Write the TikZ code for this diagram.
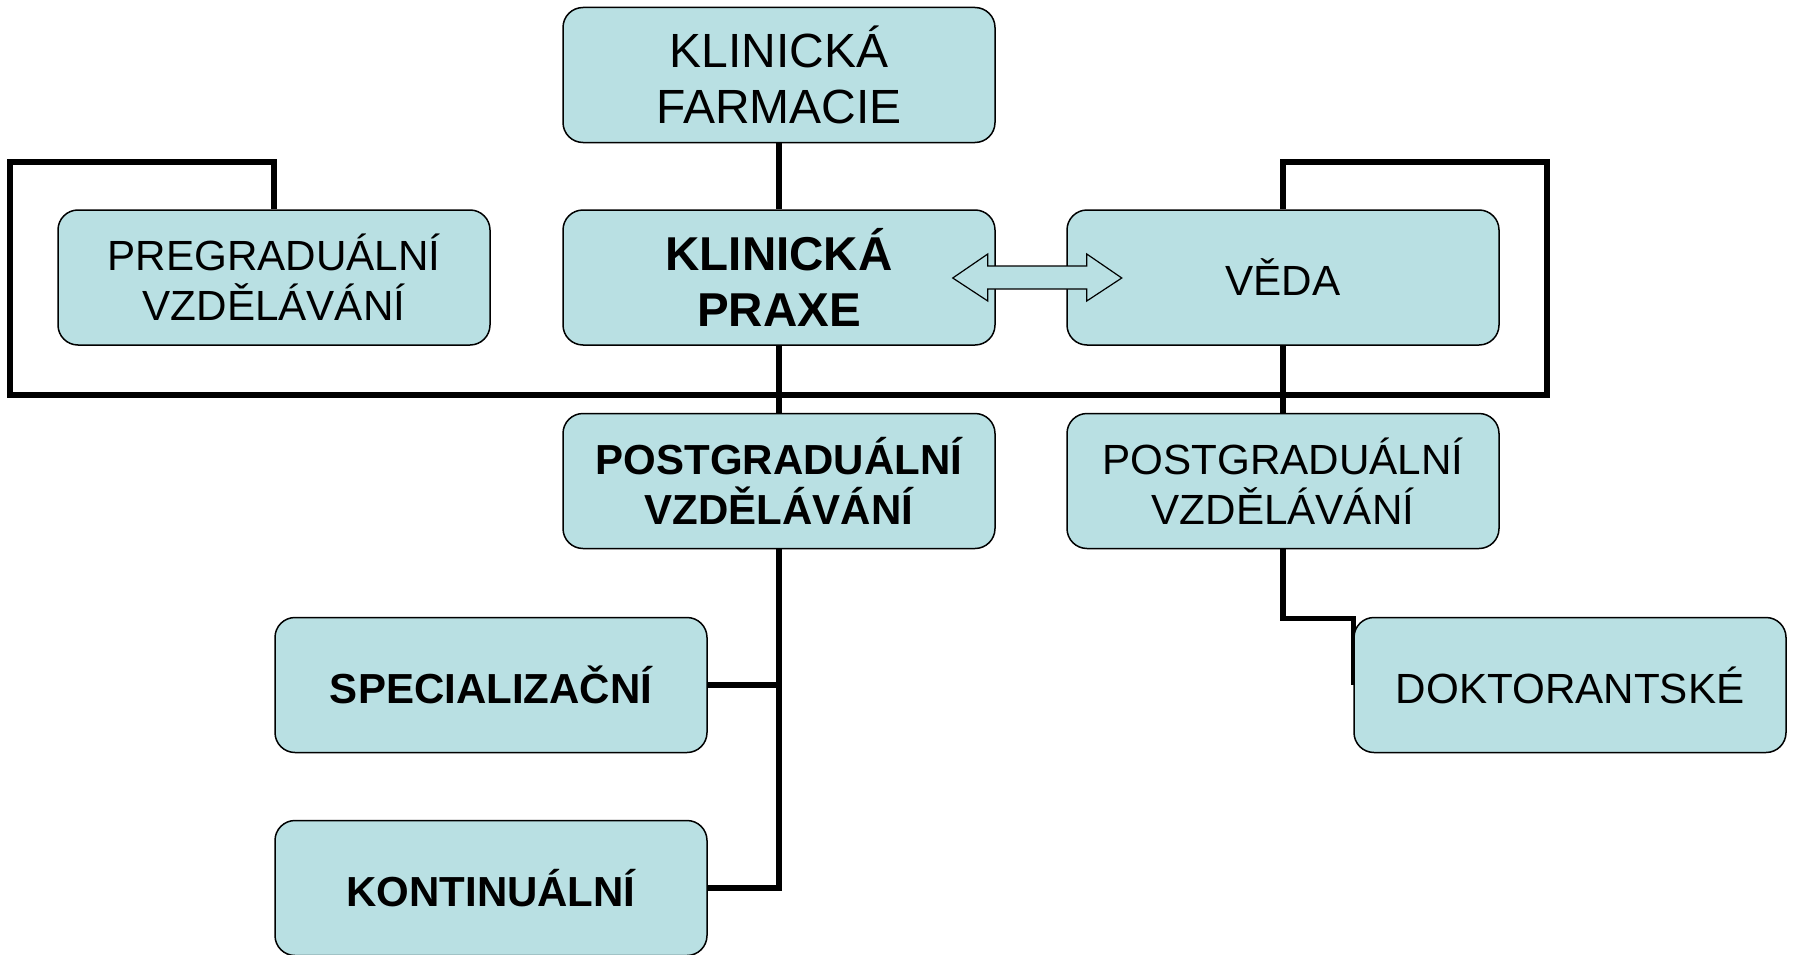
\documentclass[tikz,border=0pt]{standalone}
\usepackage{fontspec}
\setmainfont{Liberation Sans}
\usetikzlibrary{backgrounds}
\definecolor{boxfill}{RGB}{185,224,227}
\tikzset{
  box/.style={draw=black, line width=1.5pt, fill=boxfill, rounded corners=20pt,
    minimum width=432pt, minimum height=135pt, align=center, inner sep=0pt,
    font=\fontsize{42.2}{50}\selectfont},
  bigbox/.style={box, font=\fontsize{48}{56}\selectfont},
  conn/.style={draw=black, line width=5.5pt, line join=miter},
  dblarrow/.style={draw=black, line width=1.2pt, fill=boxfill, line join=miter}
}
\begin{document}
\begin{tikzpicture}[x=1pt,y=-1pt]
\useasboundingbox (0,0) rectangle (1795,955);
% nodes
\node[bigbox] (kf) at (779,75) {KLINICKÁ\\FARMACIE};
\node[box] (pre) at (274,277.5) {PREGRADUÁLNÍ\\VZDĚLÁVÁNÍ};
\node[bigbox, font=\fontsize{47.5}{56}\selectfont\bfseries] (kp) at (779,277.5) {KLINICKÁ\\PRAXE};
\node[box] (veda) at (1283,277.5) {VĚDA};
\node[box, font=\fontsize{42}{50}\selectfont\bfseries] (pg) at (779,481) {POSTGRADUÁLNÍ\\VZDĚLÁVÁNÍ};
\node[box] (pgr) at (1283,481) {POSTGRADUÁLNÍ\\VZDĚLÁVÁNÍ};
\node[box, font=\fontsize{42}{50}\selectfont\bfseries] (spec) at (491,685) {SPECIALIZAČNÍ};
\node[box, font=\fontsize{42}{50}\selectfont\bfseries] (kont) at (491,888) {KONTINUÁLNÍ};
\node[box] (dok) at (1570,685) {DOKTORANTSKÉ};
% connectors behind boxes
\begin{pgfonlayer}{background}
\coordinate (b1) at (274,162);
\coordinate (b2) at (10,162);
\coordinate (b3) at (10,395);
\coordinate (b4) at (1547,395);
\coordinate (b5) at (1547,162);
\coordinate (b6) at (1283,162);
\draw[conn] (pre.north) -- (b1) -- (b2) -- (b3) -- (b4) -- (b5) -- (b6) -- (veda.north);
\draw[conn] (kf.south) -- (kp.north);
\draw[conn] (kp.south) -- (pg.north);
\draw[conn] (veda.south) -- (pgr.north);
\draw[conn] (pg.south) |- (kont.east);
\draw[conn] (pg.south) |- (spec.east);
\draw[conn] (pgr.south) -- ++(0,69) coordinate (dk) -| (dok.west);
\end{pgfonlayer}
% double arrow between KLINICKÁ PRAXE and VĚDA
\path (kp.east) ++(-43,0.5) coordinate (al);
\draw[dblarrow] (al) -- ++(35,-24) -- ++(0,12) -- ++(99,0) -- ++(0,-12) -- ++(35,24)
  -- ++(-35,23) -- ++(0,-12) -- ++(-99,0) -- ++(0,12) -- cycle;
\end{tikzpicture}
\end{document}
